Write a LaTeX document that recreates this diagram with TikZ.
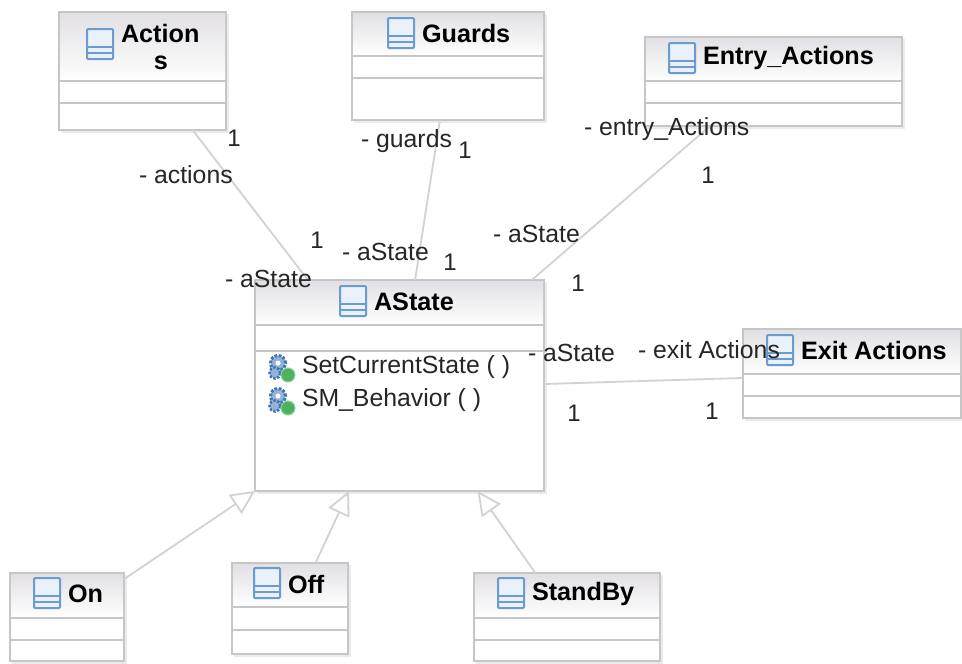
\documentclass[tikz,border=0pt]{standalone}
\usepackage{fontspec}
\setmainfont{Liberation Sans}
\usetikzlibrary{arrows.meta,calc}
\definecolor{umlline}{HTML}{C6C6C6}
\definecolor{connline}{HTML}{D2D2D2}
\definecolor{umlhead}{HTML}{E2E0E4}
\definecolor{iconblue}{HTML}{6A9CD0}
\definecolor{iconfill}{HTML}{EAF1FA}
\definecolor{gearblue}{HTML}{3F74B5}
\definecolor{geargreen}{HTML}{4DB25E}
\definecolor{txt}{HTML}{262626}
\tikzset{
  classbox/.style={draw=umlline,line width=2pt,fill=white,inner sep=0pt,outer sep=0pt},
  sepline/.style={draw=umlline,line width=1.8pt},
  assoc/.style={draw=connline,line width=1.8pt},
  inherit/.style={draw=connline,line width=1.8pt,-{Triangle[open,fill=white,length=24pt,width=23pt]}},
  classtitle/.style={inner sep=0pt,outer sep=0pt,anchor=west,font=\fontsize{25.2}{26}\selectfont\bfseries,text=black},
  lab/.style={inner sep=0pt,outer sep=0pt,anchor=west,font=\fontsize{24.8}{26}\selectfont,text=txt},
  mult/.style={inner sep=0pt,outer sep=0pt,font=\fontsize{24}{26}\selectfont,text=txt}
}
% class icon centred on a point
\newcommand{\classicon}[2]{%
  \fill[iconfill,draw=iconblue,line width=2pt,rounded corners=1pt] ({#1-13},{#2-15}) rectangle ({#1+13},{#2+15});
  \draw[iconblue,line width=1.8pt] ({#1-13},{#2+3}) -- ({#1+13},{#2+3}) ({#1-13},{#2+9}) -- ({#1+13},{#2+9});}
% operation icon centred on a point
\newcommand{\opicon}[2]{%
  \draw[gearblue,line width=3pt,dash pattern=on 2.6pt off 1.6pt,fill=gearblue!55] ({#1-3},{#2-5}) circle (7.5pt);
  \fill[white] ({#1-3},{#2-5}) circle (2.5pt);
  \draw[gearblue,line width=2.5pt,dash pattern=on 2.4pt off 1.5pt,fill=gearblue!55] ({#1-6},{#2+5}) circle (5.5pt);
  \fill[geargreen,draw=geargreen!60!white,line width=1pt] ({#1+7},{#2+7}) circle (7pt);}
% name, x1, y1, x2, y2, header bottom, separator, icon x, icon y
\newcommand{\umlclass}[9]{%
  \fill[black!8] ({#2+2},{#3+2}) rectangle ({#4+3},{#5+3});
  \node[classbox,minimum width={(#4)-(#2)},minimum height={(#5)-(#3)}] (#1) at ({((#2)+(#4))/2},{((#3)+(#5))/2}) {};
  \shade[top color=umlhead,bottom color=white] ({#2+1},{#3+1}) rectangle ({#4-1},{#6});
  \draw[sepline] (#2,#6) -- (#4,#6) (#2,#7) -- (#4,#7);
  \classicon{#8}{#9}}
\begin{document}
\begin{tikzpicture}[x=1pt,y=-1pt]
\useasboundingbox (0,0) rectangle (962,664);
\umlclass{actions}{59}{12}{226}{130}{81}{103}{100}{44}
\umlclass{guards}{352}{12}{544}{120}{56}{78}{401}{33}
\umlclass{entry}{645}{37}{902}{126}{81}{103}{682}{58}
\umlclass{astate}{255}{280}{544}{491}{325}{351}{353}{301}
\umlclass{exit}{743}{329}{961}{418}{374}{396}{780}{350}
\umlclass{on}{10}{573}{124}{661}{618}{640}{47}{593}
\umlclass{off}{232}{563}{348}{654}{607}{630}{267}{583}
\umlclass{standby}{474}{573}{660}{661}{618}{640}{511}{593}
% titles
\node[classtitle] (t1) at (121,33) {Action};
\node[classtitle,anchor=center] (t1b) at (161,63) {s};
\node[classtitle] (t2) at (422,33) {Guards};
\node[classtitle] (t3) at (703,58) {Entry\_Actions};
\node[classtitle] (t4) at (374,302) {AState};
\node[classtitle] (t5) at (801,350) {Exit Actions};
\node[classtitle] (t6) at (68,594) {On};
\node[classtitle] (t7) at (288,584) {Off};
\node[classtitle] (t8) at (532,594) {StandBy};
% operations
\opicon{281}{368}
\opicon{281}{401}
\node[lab] (op1) at (302,367) {SetCurrentState ( )};
\node[lab] (op2) at (302,400) {SM\_Behavior  ( )};
% associations
\draw[assoc] ($(actions.south west)!0.80!(actions.south east)$) -- ($(astate.north west)!0.183!(astate.north east)$);
\draw[assoc] ($(guards.south west)!0.458!(guards.south east)$) -- ($(astate.north west)!0.554!(astate.north east)$);
\draw[assoc] ($(entry.south west)!0.253!(entry.south east)$) -- ($(astate.north west)!0.958!(astate.north east)$);
\draw[assoc] ($(astate.north east)!0.493!(astate.south east)$) -- ($(exit.north west)!0.55!(exit.south west)$);
% generalisations
\draw[inherit] ($(on.north east)!0.07!(on.south east)$) -- (astate.south west);
\draw[inherit] ($(off.north west)!0.72!(off.north east)$) -- ($(astate.south west)!0.325!(astate.south east)$);
\draw[inherit] ($(standby.north west)!0.33!(standby.north east)$) -- ($(astate.south west)!0.77!(astate.south east)$);
% role labels and multiplicities
\node[mult] (m1) at (234,138) {1};
\node[lab] (l1) at (139,175) {- actions};
\node[mult] (m2) at (317,240) {1};
\node[lab] (l2) at (225,279) {- aState};
\node[lab] (l3) at (361,141) {- guards};
\node[mult] (m3) at (465,150) {1};
\node[lab] (l4) at (342,252) {- aState};
\node[mult] (m4) at (450,262) {1};
\node[lab] (l5) at (584,129) {- entry\_Actions};
\node[mult] (m5) at (708,175) {1};
\node[lab] (l6) at (493,234) {- aState};
\node[mult] (m6) at (578,283) {1};
\node[lab] (l7) at (528,353) {- aState};
\node[lab] (l8) at (638,350) {- exit Actions};
\node[mult] (m7) at (574,413) {1};
\node[mult] (m8) at (712,411) {1};
\end{tikzpicture}
\end{document}
